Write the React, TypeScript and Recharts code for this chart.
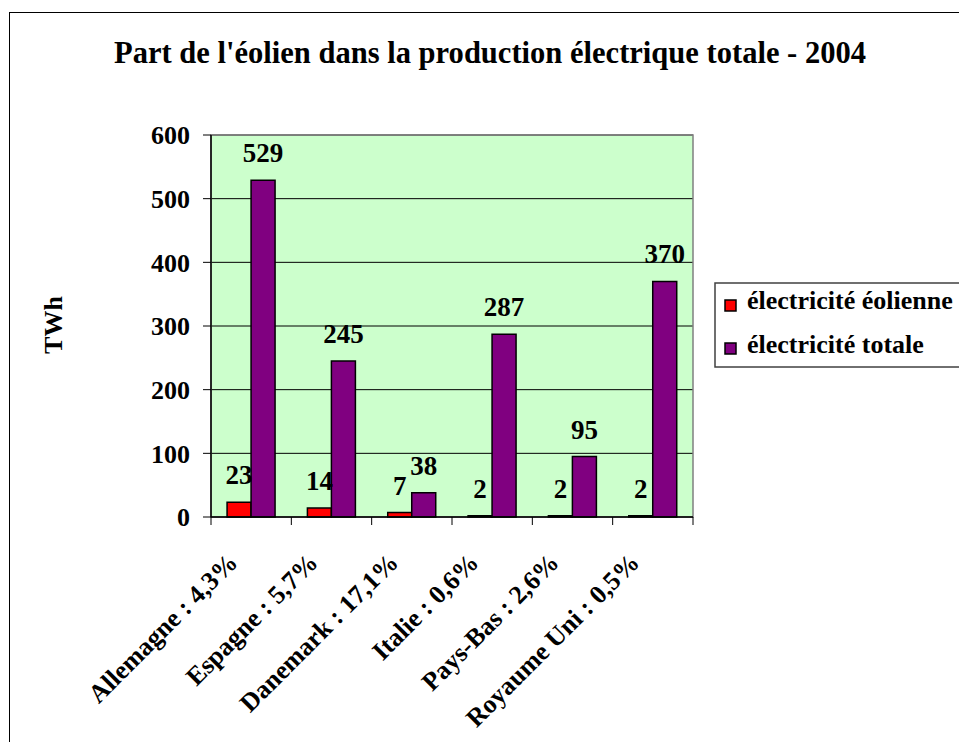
import React from "react";
import { BarChart, Bar, XAxis, YAxis, CartesianGrid, LabelList, ReferenceArea } from "recharts";

const countries = [
  "Allemagne : 4,3%",
  "Espagne : 5,7%",
  "Danemark : 17,1%",
  "Italie : 0,6%",
  "Pays-Bas : 2,6%",
  "Royaume Uni : 0,5%",
];
const windTWh = [23, 14, 7, 2, 2, 2];
const totalTWh = [529, 245, 38, 287, 95, 370];
const yTicks = [0, 100, 200, 300, 400, 500, 600];

const seriesNames = { wind: "électricité éolienne", total: "électricité totale" };
const title = "Part de l'éolien dans la production électrique totale - 2004";

const data = countries.map((c, i) => ({ country: c, wind: windTWh[i], total: totalTWh[i] }));

const FONT = "Liberation Serif, Times New Roman, serif";

function CountryTick(props: any) {
  const { x, y, payload, index } = props;
  const half = payload && payload.offset ? payload.offset : 40.17;
  const last = index === countries.length - 1;
  return (
    <g>
      <line x1={x - half} y1={y} x2={x - half} y2={y + 8} stroke="#000" />
      {last && <line x1={x + half} y1={y} x2={x + half} y2={y + 8} stroke="#000" />}
      <text
        transform={`translate(${x - 12},${y + 47}) rotate(-45)`}
        textAnchor="end"
        fontFamily={FONT}
        fontWeight="bold"
        fontSize={26}
        fill="#000"
      >
        {payload.value}
      </text>
    </g>
  );
}

export default function App() {
  return (
    <div
      style={{
        position: "absolute",
        left: 0,
        top: 0,
        width: 959,
        height: 742,
        overflow: "hidden",
        background: "#fff",
        fontFamily: FONT,
      }}
    >
      <div
        style={{
          position: "absolute",
          left: 9,
          top: 12,
          width: 1100,
          height: 1100,
          borderLeft: "1.5px solid #000",
          borderTop: "1.5px solid #000",
        }}
      />
      <div style={{ position: "absolute", left: 0, top: 0 }}>
        <BarChart
          width={959}
          height={742}
          data={data}
          margin={{ top: 135, right: 266, bottom: 195, left: 151 }}
          barCategoryGap="20%"
          barGap={0}
        >
          <CartesianGrid vertical={false} stroke="#000" fill="#CCFFCC" fillOpacity={1} />
          <ReferenceArea y1={0} y2={600} fill="none" fillOpacity={0} stroke="#808080" strokeWidth={1.5} />
          <XAxis
            dataKey="country"
            height={30}
            interval={0}
            tickLine={false}
            tickSize={0}
            tickMargin={0}
            axisLine={{ stroke: "#000", strokeWidth: 1.5 }}
            tick={<CountryTick />}
          />
          <YAxis
            width={60}
            domain={[0, 600]}
            ticks={yTicks}
            interval={0}
            tickSize={8}
            tickMargin={13}
            axisLine={{ stroke: "#000", strokeWidth: 1.5 }}
            tickLine={{ stroke: "#000" }}
            tick={{ fill: "#000", fontSize: 26, fontWeight: "bold", fontFamily: FONT }}
          />
          <Bar dataKey="wind" name={seriesNames.wind} fill="#FF0000" stroke="#000" strokeWidth={1.5} isAnimationActive={false}>
            <LabelList dataKey="wind" position="top" offset={18} fill="#000" fontSize={27} fontWeight="bold" fontFamily={FONT} />
          </Bar>
          <Bar dataKey="total" name={seriesNames.total} fill="#800080" stroke="#000" strokeWidth={1.5} isAnimationActive={false}>
            <LabelList dataKey="total" position="top" offset={18} fill="#000" fontSize={27} fontWeight="bold" fontFamily={FONT} />
          </Bar>
        </BarChart>
      </div>
      <svg width={959} height={742} style={{ position: "absolute", left: 0, top: 0, pointerEvents: "none" }}>
        <text
          x={490}
          y={63}
          textAnchor="middle"
          fontFamily={FONT}
          fontWeight="bold"
          fontSize={31}
          textLength={752}
          lengthAdjust="spacingAndGlyphs"
          fill="#000"
        >
          {title}
        </text>
        <text
          transform="translate(62,325) rotate(-90)"
          textAnchor="middle"
          fontFamily={FONT}
          fontWeight="bold"
          fontSize={26}
          fill="#000"
        >
          TWh
        </text>
        <rect x={715} y={283} width={300} height={84} fill="#fff" stroke="#404040" strokeWidth={1.5} />
        <rect x={725} y={300} width={11} height={11} fill="#FF0000" stroke="#000" strokeWidth={1.5} />
        <text x={747} y={309} fontFamily={FONT} fontWeight="bold" fontSize={26} fill="#000">
          {seriesNames.wind}
        </text>
        <rect x={725} y={343} width={11} height={11} fill="#800080" stroke="#000" strokeWidth={1.5} />
        <text x={747} y={353} fontFamily={FONT} fontWeight="bold" fontSize={26} fill="#000">
          {seriesNames.total}
        </text>
      </svg>
    </div>
  );
}
